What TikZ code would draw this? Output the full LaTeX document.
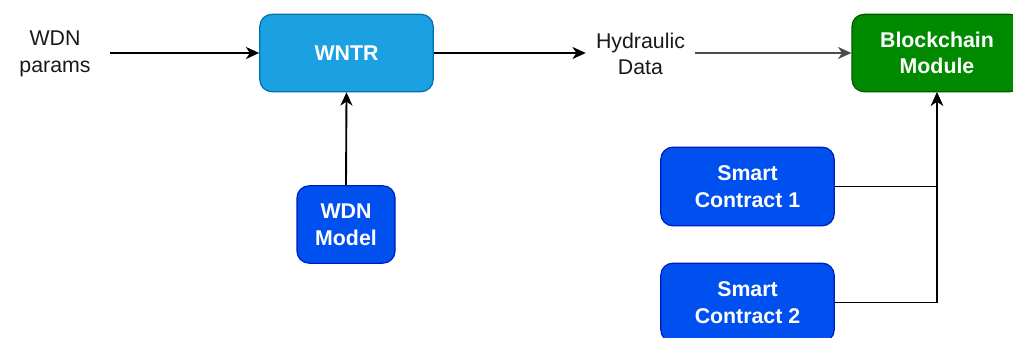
\documentclass[tikz,border=0pt]{standalone}
\usepackage{fontspec}
\setmainfont{Liberation Sans}
\usepackage{tikz}
\usetikzlibrary{arrows.meta,positioning}
\definecolor{skyfill}{HTML}{1BA1E2}
\definecolor{skyline}{HTML}{006EAF}
\definecolor{cobaltfill}{HTML}{0050EF}
\definecolor{cobaltline}{HTML}{001DBC}
\definecolor{leaffill}{HTML}{008A00}
\definecolor{leafline}{HTML}{005700}
\definecolor{ink}{HTML}{1A1A1A}
\tikzset{
  modbox/.style={
    rectangle, rounded corners=9pt, draw=#1line, fill=#1fill, line width=0.9pt,
    minimum width=130pt, minimum height=58pt,
    font=\fontsize{16pt}{20pt}\selectfont\bfseries, text=white,
    align=center, inner sep=2pt
  },
  modbox/.default=cobalt,
  flowlabel/.style={
    font=\fontsize{16pt}{20pt}\selectfont, text=ink, align=center,
    inner ysep=2pt
  },
  flow/.style={
    -{Stealth[length=10pt, width=9pt, inset=3pt]}, line width=1.4pt, color=#1
  },
  flow/.default=black,
}
\begin{document}
\begin{tikzpicture}[x=0.75pt, y=-0.75pt]
  \clip (0,0) rectangle (1013,338);

  % simulation side
  \node[flowlabel, inner xsep=14pt] (params) at (55,54) {WDN\\params};
  \node[modbox=sky] (wntr) at (346.5,53) {WNTR};
  \node[modbox, minimum width=73.5pt] (model) at (346,224.5) {WDN\\Model};

  % blockchain side
  \node[flowlabel, inner xsep=7.5pt] (hydro) at (640.5,54) {Hydraulic\\Data};
  \node[modbox=leaf, minimum width=127.5pt] (chain) at (937,53) {Blockchain\\Module};
  \node[modbox, minimum height=59pt] (sc1) at (747.5,186.5) {Smart\\Contract 1};
  \node[modbox, minimum height=59pt] (sc2) at (747.5,302.5) {Smart\\Contract 2};

  % data flow
  \draw[flow] (params.east |- wntr.west) -- (wntr.west);
  \draw[flow] (model.north) -- (wntr.south);
  \draw[flow] (wntr.east) -- (hydro.west |- wntr.east);
  \draw[flow=black!70] (hydro.east |- chain.west) -- (chain.west);
  \draw[flow] (sc1.east) -| (chain.south);
  \draw[flow] (sc2.east) -| (chain.south);
\end{tikzpicture}
\end{document}
